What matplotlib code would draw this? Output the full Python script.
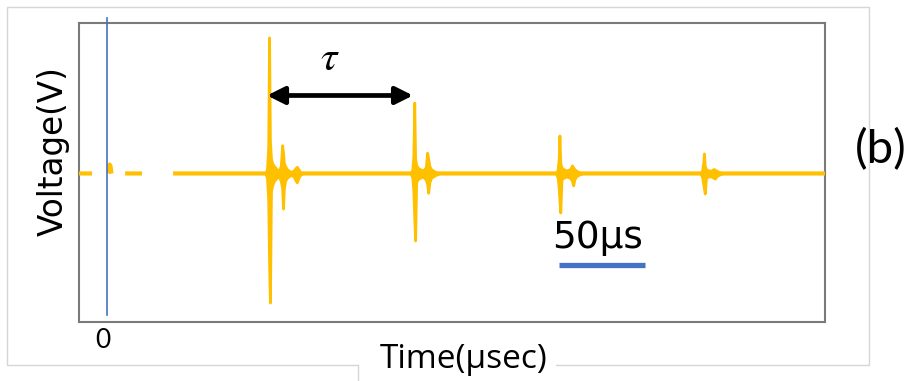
import numpy as np
import matplotlib
matplotlib.use("Agg")
import matplotlib.pyplot as plt
from matplotlib.patches import Rectangle
from matplotlib.lines import Line2D
from matplotlib.transforms import ScaledTranslation

plt.rcParams["mathtext.fontset"] = "stix"

# ---- data (time in microseconds, voltage in arbitrary volts) ----
# baseline trace with gaps (NaN) at the start of the record
base_t = [-17.0, -8.7, np.nan, 1.0, 1.5, 2.0, 2.6, np.nan, 10.5, 20.3, np.nan, 38.4, 418.0]
base_v = [0.0, 0.0, np.nan, 0.0, 0.06, 0.05, 0.0, np.nan, 0.0, 0.0, np.nan, 0.0, 0.0]

# echo envelopes: time, upper envelope, lower envelope
echo1_t = [92.0, 93.0, 93.7, 94.2, 94.7, 95.3, 96.0, 97.0, 98.5, 100.0, 101.0, 101.8,
           102.3, 102.8, 103.5, 104.5, 105.5, 107.0, 108.5, 109.5, 110.3, 111.2, 112.2, 113.5]
echo1_hi = [0.0, 0.03, 0.18, 0.916, 0.22, 0.10, 0.07, 0.05, 0.03, 0.02, 0.05, 0.19,
            0.14, 0.07, 0.05, 0.03, 0.02, 0.01, 0.02, 0.035, 0.045, 0.03, 0.01, 0.0]
echo1_lo = [0.0, -0.03, -0.18, -0.60, -0.869, -0.12, -0.08, -0.05, -0.03, -0.02, -0.05, -0.10,
            -0.236, -0.10, -0.05, -0.03, -0.02, -0.01, -0.02, -0.045, -0.06, -0.03, -0.01, 0.0]

echo2_t = [176.5, 177.5, 178.1, 178.6, 179.1, 179.7, 180.5, 181.8, 183.5, 185.3, 186.1,
           186.7, 187.4, 188.3, 189.5, 191.0, 193.0]
echo2_hi = [0.0, 0.03, 0.12, 0.478, 0.10, 0.06, 0.04, 0.03, 0.02, 0.04, 0.14,
            0.10, 0.05, 0.03, 0.02, 0.01, 0.0]
echo2_lo = [0.0, -0.03, -0.12, -0.30, -0.451, -0.06, -0.04, -0.03, -0.02, -0.04, -0.07,
            -0.13, -0.06, -0.03, -0.02, -0.01, 0.0]

echo3_t = [261.0, 262.0, 262.6, 263.0, 263.5, 264.2, 265.3, 267.0, 269.3, 270.3,
           271.0, 271.7, 272.6, 274.0, 276.0]
echo3_hi = [0.0, 0.03, 0.10, 0.256, 0.07, 0.04, 0.03, 0.02, 0.03, 0.054,
            0.04, 0.03, 0.02, 0.01, 0.0]
echo3_lo = [0.0, -0.03, -0.10, -0.18, -0.263, -0.04, -0.03, -0.02, -0.03, -0.05,
            -0.08, -0.04, -0.02, -0.01, 0.0]

echo4_t = [345.0, 346.0, 346.6, 347.0, 347.5, 348.2, 349.5, 351.5, 352.6, 353.4,
           354.2, 355.5, 357.5]
echo4_hi = [0.0, 0.025, 0.07, 0.135, 0.05, 0.03, 0.02, 0.02, 0.03, 0.025,
            0.02, 0.01, 0.0]
echo4_lo = [0.0, -0.025, -0.07, -0.10, -0.135, -0.03, -0.02, -0.02, -0.03, -0.034,
            -0.02, -0.01, 0.0]

echoes = [(echo1_t, echo1_hi, echo1_lo), (echo2_t, echo2_hi, echo2_lo),
          (echo3_t, echo3_hi, echo3_lo), (echo4_t, echo4_hi, echo4_lo)]

t_zero = 0.0
tau_start, tau_end = 93.0, 177.9
scalebar = [263.0, 313.0]
scalebar_label = "50μs"
x_ticks = [0]
x_ticklabels = ["0"]

# ---- figure ----
W, H = 910, 381
fig = plt.figure(figsize=(W / 100, H / 100), dpi=100)
fig.patch.set_facecolor("white")

# outer light frame
fig.add_artist(Rectangle((7 / W, (H - 365) / H), 862 / W, 358 / H,
                         transform=fig.transFigure, fill=False,
                         edgecolor="#d6d6d6", lw=1.0, zorder=0))
# white box under x label
fig.add_artist(Rectangle((358 / W, 0), 198 / W, (H - 364) / H,
                         transform=fig.transFigure, facecolor="white",
                         edgecolor="none", zorder=1))
fig.add_artist(Line2D([358 / W, 358 / W], [0, (H - 365) / H],
                      transform=fig.transFigure, color="#d6d6d6", lw=1.0, zorder=2))

ax = fig.add_axes([79 / W, (H - 322) / H, (825 - 79) / W, (322 - 23) / H])
ax.set_xlim(-16.3, 417.4)
ax.set_ylim(-1.0, 1.013)

yellow = "#FFC000"
ax.plot(base_t, base_v, color=yellow, lw=3.0, zorder=3, solid_capstyle="butt")
for et, ehi, elo in echoes:
    ax.fill_between(et, elo, ehi, color=yellow, lw=2.0, edgecolor=yellow, zorder=3)

# blue reference line at t=0
ax.plot([t_zero, t_zero], [-0.95, 1.05], color="#4472C4", lw=1.2,
        clip_on=False, zorder=4)

# tau arrow
ax.annotate("", xy=(tau_start, 0.525), xytext=(tau_end, 0.525),
            arrowprops=dict(arrowstyle="<|-|>", color="black", lw=3.4,
                            mutation_scale=26, shrinkA=0, shrinkB=0))
ax.text(129.5, 0.78, r"$\tau$", fontsize=30, ha="center", va="center")

# scale bar
ax.plot(scalebar, [-0.613, -0.613], color="#4472C4", lw=3.8, solid_capstyle="butt")
ax.text(258.5, -0.505, scalebar_label, fontsize=27, family="DejaVu Sans",
        ha="left", va="baseline")

for s in ax.spines.values():
    s.set_color("#7a7a7a")
    s.set_linewidth(1.5)

ax.set_xticks(x_ticks)
ax.set_xticklabels(x_ticklabels, family="Lato", fontsize=19)
ax.tick_params(axis="x", length=0, pad=4)
for lbl in ax.get_xticklabels():
    lbl.set_transform(lbl.get_transform() + ScaledTranslation(-4 / 100, 0, fig.dpi_scale_trans))
ax.set_yticks([])

fig.text(53 / W, (H - 151.5) / H, "Voltage(V)", fontsize=23.5, family="DejaVu Sans",
         rotation=90, ha="center", va="center")
fig.text(464 / W, (H - 360) / H, "Time(μsec)", fontsize=24, family="Open Sans",
         ha="center", va="center", zorder=5)
fig.text(881 / W, (H - 150) / H, "(b)", fontsize=34, family="Lato",
         ha="center", va="center")

fig.savefig("out.png", dpi=100, facecolor="white")
